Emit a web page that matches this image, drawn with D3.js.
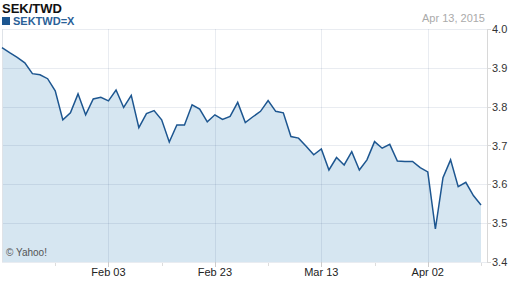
<!DOCTYPE html>
<html>
<head>
<meta charset="utf-8">
<script src="https://cdn.jsdelivr.net/npm/d3@7"></script>
<style>
  body { margin: 0; background: #fff; }
  svg { font-family: Arial, "Liberation Sans", sans-serif; }
</style>
</head>
<body>
<script>
// weekday closes, Jan 14 to Apr 13 2015 (one per trading day)
var rates = [3.952, 3.939, 3.927, 3.913, 3.885, 3.882, 3.872, 3.841, 3.766, 3.784,
             3.833, 3.779, 3.820, 3.824, 3.815, 3.843, 3.798, 3.829, 3.746, 3.782,
             3.790, 3.766, 3.709, 3.753, 3.753, 3.805, 3.794, 3.761, 3.779, 3.767,
             3.775, 3.811, 3.759, 3.774, 3.788, 3.816, 3.788, 3.784, 3.723, 3.719,
             3.698, 3.676, 3.691, 3.637, 3.669, 3.650, 3.684, 3.637, 3.663, 3.710,
             3.693, 3.703, 3.660, 3.659, 3.659, 3.643, 3.632, 3.485, 3.617, 3.663,
             3.594, 3.605, 3.571, 3.547];
var majorIdx = [14, 28, 42, 56];
var majorLabels = ["Feb 03", "Feb 23", "Mar 13", "Apr 02"];
var minorIdx = [7, 21, 35, 49, 63];
var yTicks = [3.4, 3.5, 3.6, 3.7, 3.8, 3.9, 4.0];

var w = 512, h = 288;
// plot box (note: "top" is reserved on window, so use pTop etc)
var pLeft = 2, pRight = 481, axisX = 487, pTop = 29, pBottom = 262;

var svg = d3.select("body").append("svg")
    .attr("width", w)
    .attr("height", h);

var x = d3.scaleLinear().domain([0, rates.length - 1]).range([pLeft, pRight]);
var y = d3.scaleLinear().domain([3.4, 4.0]).range([pBottom, pTop]);

// filled area under the line
var area = d3.area()
    .x(function(d, i) { return x(i); })
    .y0(pBottom)
    .y1(function(d) { return y(d); });
svg.append("path")
    .datum(rates)
    .attr("d", area)
    .attr("fill", "#d6e6f1");

// grid on top, semi transparent
var grid = svg.append("g").attr("stroke", "rgba(40,70,120,0.1)").attr("stroke-width", 1);
grid.selectAll("line.h")
    .data(yTicks)
    .enter().append("line")
    .attr("x1", pLeft).attr("x2", axisX)
    .attr("y1", function(d) { return Math.round(y(d)) + 0.5; })
    .attr("y2", function(d) { return Math.round(y(d)) + 0.5; });
grid.selectAll("line.v")
    .data(majorIdx)
    .enter().append("line")
    .attr("x1", function(d) { return Math.round(x(d)) + 0.5; })
    .attr("x2", function(d) { return Math.round(x(d)) + 0.5; })
    .attr("y1", pTop).attr("y2", pBottom);
svg.append("line")
    .attr("x1", pLeft + 0.5).attr("x2", pLeft + 0.5)
    .attr("y1", pTop).attr("y2", pBottom)
    .attr("stroke", "#dfe3e8");

// the rate line
var line = d3.line()
    .x(function(d, i) { return x(i); })
    .y(function(d) { return y(d); });
svg.append("path")
    .datum(rates)
    .attr("d", line)
    .attr("fill", "none")
    .attr("stroke", "#1d5690")
    .attr("stroke-width", 1.5);

// right axis
svg.append("line")
    .attr("x1", axisX + 0.5).attr("x2", axisX + 0.5)
    .attr("y1", pTop).attr("y2", pBottom + 1)
    .attr("stroke", "#d8d8d8");
svg.selectAll("line.yt")
    .data(yTicks)
    .enter().append("line")
    .attr("x1", axisX).attr("x2", axisX + 4)
    .attr("y1", function(d) { return Math.round(y(d)) + 0.5; })
    .attr("y2", function(d) { return Math.round(y(d)) + 0.5; })
    .attr("stroke", "#d8d8d8");
svg.selectAll("text.yl")
    .data(yTicks)
    .enter().append("text")
    .attr("x", axisX + 5)
    .attr("y", function(d) { return y(d) + 4; })
    .attr("font-size", 11)
    .attr("fill", "#333")
    .text(function(d) { return d.toFixed(1); });

// bottom ticks
svg.selectAll("line.mt")
    .data(minorIdx)
    .enter().append("line")
    .attr("x1", function(d) { return Math.round(x(d)) + 0.5; })
    .attr("x2", function(d) { return Math.round(x(d)) + 0.5; })
    .attr("y1", pBottom + 1).attr("y2", pBottom + 4)
    .attr("stroke", "#ddd");
svg.selectAll("line.Mt")
    .data(majorIdx)
    .enter().append("line")
    .attr("x1", function(d) { return Math.round(x(d)) + 0.5; })
    .attr("x2", function(d) { return Math.round(x(d)) + 0.5; })
    .attr("y1", pBottom).attr("y2", pBottom + 5)
    .attr("stroke", "#ccc");
svg.selectAll("text.xl")
    .data(majorIdx)
    .enter().append("text")
    .attr("x", function(d) { return x(d); })
    .attr("y", 276)
    .attr("text-anchor", "middle")
    .attr("font-size", 11)
    .attr("fill", "#222")
    .text(function(d, i) { return majorLabels[i]; });

// header
svg.append("text")
    .attr("x", 2).attr("y", 13)
    .attr("font-size", 13).attr("font-weight", "bold")
    .attr("fill", "#111")
    .text("SEK/TWD");
svg.append("rect")
    .attr("x", 2).attr("y", 17).attr("width", 8).attr("height", 8)
    .attr("fill", "#1d5690");
svg.append("text")
    .attr("x", 13).attr("y", 25)
    .attr("font-size", 11).attr("font-weight", "bold")
    .attr("fill", "#2a6198")
    .text("SEKTWD=X");
svg.append("text")
    .attr("x", 485).attr("y", 22)
    .attr("text-anchor", "end")
    .attr("font-size", 11)
    .attr("fill", "#aaa")
    .text("Apr 13, 2015");
svg.append("text")
    .attr("x", 6).attr("y", 256)
    .attr("font-size", 10)
    .attr("fill", "#555")
    .text("© Yahoo!");
</script>
</body>
</html>
